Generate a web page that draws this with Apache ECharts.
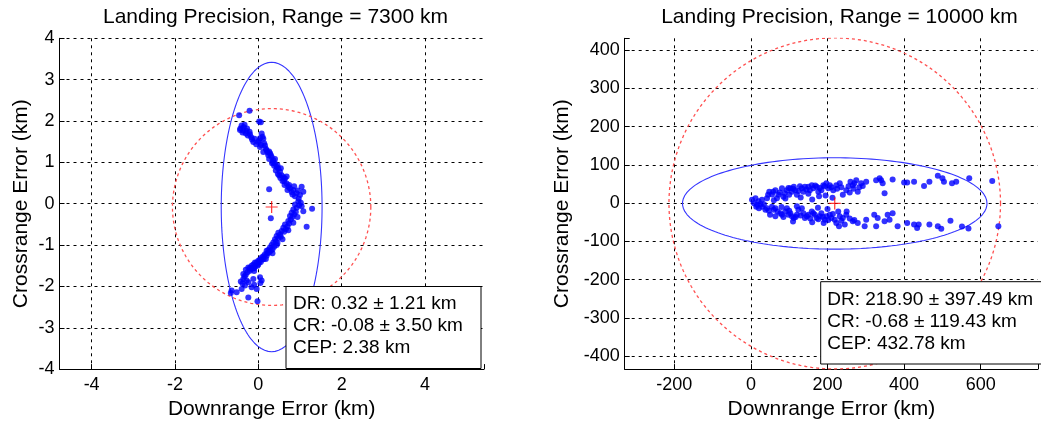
<!DOCTYPE html>
<html>
<head>
<meta charset="utf-8">
<script src="https://cdn.jsdelivr.net/npm/echarts@6/dist/echarts.min.js"></script>
<style>
html,body{margin:0;padding:0;background:#fff;}
#chart{width:1041px;height:425px;}
</style>
</head>
<body>
<div id="chart"></div>
<script>
// ---------- data ----------
const titleLeft = 'Landing Precision, Range = 7300 km';
const titleRight = 'Landing Precision, Range = 10000 km';
const xAxisName = 'Downrange Error (km)';
const yAxisName = 'Crossrange Error (km)';

// statistics (mean DR, mean CR, std DR, std CR, CEP)
const statsLeft = {dr: 0.32, cr: -0.08, sdr: 1.21, scr: 3.50, cep: 2.38};
const statsRight = {dr: 218.90, cr: -0.68, sdr: 397.49, scr: 119.43, cep: 432.78};

const boxLinesLeft = ['DR: 0.32 \u00b1 1.21 km', 'CR: -0.08 \u00b1 3.50 km', 'CEP: 2.38 km'];
const boxLinesRight = ['DR: 218.90 \u00b1 397.49 km', 'CR: -0.68 \u00b1 119.43 km', 'CEP: 432.78 km'];

// impact points, 7300 km
const pointsLeft = [
[-0.46,2.14],[-0.21,2.25],[0.02,1.99],[0.06,1.97],
[-0.40,1.89],[-0.33,1.91],[-0.43,1.82],[-0.36,1.77],[-0.27,1.82],[-0.30,1.70],[-0.21,1.74],[-0.38,1.72],
[-0.25,1.65],[-0.17,1.61],[-0.09,1.57],[-0.12,1.49],[0.00,1.49],[0.08,1.70],[0.12,1.57],[0.10,1.62],
[-0.05,1.44],[0.04,1.37],[0.07,1.42],[0.16,1.41],[0.20,1.29],[0.12,1.25],[0.18,1.33],[0.24,1.17],
[0.28,1.22],[0.32,1.13],[0.26,1.08],[0.36,1.05],[0.33,0.98],[0.40,0.97],[0.44,0.89],[0.38,0.92],
[0.48,0.85],[0.42,0.80],[0.52,0.77],[0.47,0.72],[0.56,0.69],[0.53,0.62],[0.60,0.64],[0.64,0.61],
[0.58,0.55],[0.68,0.49],[0.63,0.45],[0.72,0.41],[0.76,0.37],[0.70,0.33],[0.84,0.33],[0.80,0.28],
[0.92,0.25],[0.88,0.18],[1.00,0.21],[1.04,0.41],[1.08,0.29],[0.97,0.12],[0.26,0.35],[0.30,-0.35],
[0.96,0.06],[0.88,-0.02],[1.04,-0.06],[1.29,-0.12],[0.84,-0.14],[0.92,-0.10],[0.80,-0.22],[0.86,-0.26],
[0.76,-0.30],[1.08,-0.18],[0.72,-0.42],[0.78,-0.38],[0.64,-0.50],[0.70,-0.55],[0.60,-0.58],[0.66,-0.62],
[1.16,-0.56],[0.56,-0.66],[0.48,-0.70],[0.52,-0.75],[0.44,-0.78],[0.48,-0.83],[0.40,-0.86],[0.36,-0.94],
[0.42,-0.92],[0.32,-1.00],[0.28,-1.06],[0.34,-1.10],[0.24,-1.12],[0.20,-1.14],[0.26,-1.18],[0.16,-1.22],
[0.20,-1.26],[0.12,-1.27],[0.08,-1.30],[0.13,-1.34],[0.04,-1.35],[0.00,-1.38],[0.06,-1.41],[-0.04,-1.42],
[-0.08,-1.42],[0.00,-1.47],[-0.12,-1.47],[-0.16,-1.50],[-0.08,-1.52],[-0.20,-1.55],[-0.24,-1.54],[-0.13,-1.57],
[-0.30,-1.60],[-0.20,-1.62],[-0.26,-1.66],[-0.10,-1.63],[-0.36,-1.82],[-0.28,-1.86],[-0.33,-1.76],[-0.12,-1.82],
[0.04,-1.78],[0.08,-1.86],[0.05,-1.92],[-0.32,-1.98],[-0.38,-1.93],[-0.16,-2.02],[-0.04,-2.06],[-0.64,-2.10],
[-0.66,-2.16],[-0.52,-2.14],[-0.40,-2.06],[-0.24,-2.27],[-0.02,-2.36],
[-0.35,1.85],[-0.28,1.76],[-0.15,1.55],[0.02,1.52],[0.14,1.46],[0.22,1.24],[0.30,1.18],[0.35,1.00],
[0.46,0.93],[0.50,0.68],[0.62,0.55],[0.74,0.45],[0.82,0.22],[0.95,0.32],[1.02,0.02],[0.90,-0.20],
[0.82,-0.32],[0.74,-0.48],[0.62,-0.68],[0.54,-0.80],[0.46,-0.95],[0.38,-1.04],[0.30,-1.14],[0.22,-1.20],
[0.10,-1.35],[-0.02,-1.50],[-0.18,-1.58],[-0.30,-1.72],[-0.24,-1.90],[-0.10,-1.96],
[-0.44,1.78],[-0.20,1.68],[0.04,1.58],[0.26,1.26],[0.40,1.08],[0.54,0.86],[0.68,0.66],[0.86,0.42],
[0.98,-0.04],[0.94,-0.32],[0.84,-0.46],[0.72,-0.64],[0.58,-0.86],[0.44,-1.00],[0.34,-1.20],[0.18,-1.34],
[0.02,-1.42],[-0.10,-1.56],[-0.36,-1.70],[-0.42,-1.88]
];

// impact points, 10000 km
const pointsRight = [
[3,9],[12,13],[8,0],[16,-4],[29,9],[34,-3],[42,13],[48,30],[55,23],[64,34],[68,13],[72,22],[81,39],[85,17],
[94,34],[103,39],[107,30],[112,43],[116,34],[120,22],[124,32],[133,39],[137,30],[141,43],[150,43],[154,34],
[159,47],[163,39],[172,43],[176,30],[184,34],[189,47],[197,52],[202,39],[206,47],[215,34],[223,47],[232,52],
[240,22],[249,34],[260,56],[266,47],[275,60],[279,30],[288,52],[301,56],[327,60],[340,60],[349,26],[344,52],
[336,65],[370,62],[400,54],[408,54],[426,56],[452,45],[466,56],[488,72],[500,65],[504,56],[525,52],[536,56],
[570,65],[630,58],
[20,5],[25,-2],[45,22],[58,30],[75,28],[88,26],[98,40],[110,38],[128,44],[145,36],[168,46],[180,40],
[192,44],[210,42],[225,38],[236,42],[255,44],[270,52],[283,42],[292,45],
[60,8],[90,12],[130,15],[160,10],[195,20],[213,14],[150,25],[100,22],[178,18],[258,28],[268,38],
[14,-9],[21,-13],[29,-9],[38,-17],[42,-13],[55,-9],[60,-17],[64,-13],[64,-34],[77,-26],[81,-30],[90,-22],
[94,-13],[98,-30],[103,-26],[107,-34],[112,-39],[120,-30],[124,-17],[133,-13],[137,-26],[141,-39],[150,-30],
[159,-22],[167,-30],[172,-39],[180,-34],[184,-26],[193,-43],[197,-34],[206,-30],[210,-39],[219,-43],[223,-52],
[228,-22],[232,-34],[240,-39],[249,-30],[266,-47],[279,-52],[297,-60],[301,-43],[322,-30],[331,-39],[327,-60],
[349,-47],[357,-30],[362,-43],[370,-26],[383,-60],[408,-52],[426,-56],[434,-65],[438,-56],[466,-56],[488,-60],
[497,-67],[521,-46],[551,-61],[568,-66],[646,-60],
[47,-20],[70,-22],[85,-36],[100,-20],[117,-36],[130,-32],[146,-34],[155,-40],[163,-26],[176,-42],[188,-36],
[202,-44],[214,-28],[236,-46],[245,-56],[258,-40],[270,-44],
[80,-10],[120,-8],[175,-12],[200,-15],[250,-22],[160,-50],[110,-48],[190,-52],[230,-60],[50,-30]
];

// axis ranges / tick spacing
const xRangeLeft = [-4.771, 5.416], xStepLeft = 2;
const yRangeLeft = [-4, 4], yStepLeft = 1;
const xRangeRight = [-329.4, 749.5], xStepRight = 200;
const yRangeRight = [-433.7, 431.1], yStepRight = 100;

// ---------- helpers ----------
function ellipse(cx, cy, a, b) {
  const pts = [];
  for (let i = 0; i <= 180; i++) {
    const t = i * Math.PI / 90;
    pts.push([cx + a * Math.cos(t), cy + b * Math.sin(t)]);
  }
  return pts;
}
const FONT = '"Liberation Sans", Arial, Helvetica, sans-serif';
function fmt(step) {
  return function (v) {
    const r = v / step;
    return Math.abs(r - Math.round(r)) < 1e-6 ? String(Math.round(v)) : '';
  };
}
function xAxisCfg(idx, range, step) {
  return {
    type: 'value', gridIndex: idx, min: range[0], max: range[1],
    minInterval: step, maxInterval: step, splitNumber: 5,
    name: xAxisName, nameLocation: 'middle', nameGap: 27,
    nameTextStyle: {fontFamily: FONT, fontSize: 21, color: '#000'},
    axisLine: {show: true, onZero: false, lineStyle: {color: '#000', width: 1}},
    axisTick: {show: true, inside: true, length: 5, lineStyle: {color: '#000'}},
    axisLabel: {fontFamily: FONT, fontSize: 18, color: '#000', margin: 7, formatter: fmt(step)},
    splitLine: {show: true, showMinLine: false, showMaxLine: false, lineStyle: {color: '#000', type: [3, 4], width: 1}}
  };
}
function yAxisCfg(idx, range, step, nameGap, showMax) {
  return {
    type: 'value', gridIndex: idx, min: range[0], max: range[1],
    minInterval: step, maxInterval: step, splitNumber: 9,
    name: yAxisName, nameLocation: 'middle', nameGap: nameGap,
    nameTextStyle: {fontFamily: FONT, fontSize: 21, color: '#000'},
    axisLine: {show: true, onZero: false, lineStyle: {color: '#000', width: 1}},
    axisTick: {show: true, inside: true, length: 5, lineStyle: {color: '#000'}},
    axisLabel: {fontFamily: FONT, fontSize: 18, color: '#000', margin: 5, formatter: fmt(step)},
    splitLine: {show: true, showMinLine: false, showMaxLine: showMax, lineStyle: {color: '#000', type: [3, 4], width: 1}}
  };
}
const crossPath = 'path://M4.5,0 H5.5 V4.5 H10 V5.5 H5.5 V10 H4.5 V5.5 H0 V4.5 H4.5 Z';

function seriesFor(idx, pts, s) {
  return [
    {type: 'scatter', xAxisIndex: idx, yAxisIndex: idx, data: pts, symbol: 'circle', symbolSize: 6,
     itemStyle: {color: '#0000ff'}, silent: true, z: 3},
    {type: 'line', xAxisIndex: idx, yAxisIndex: idx, data: ellipse(s.dr, s.cr, s.sdr, s.scr),
     showSymbol: false, lineStyle: {color: '#3535ff', width: 1.1}, silent: true, z: 2},
    {type: 'line', xAxisIndex: idx, yAxisIndex: idx, data: ellipse(s.dr, s.cr, s.cep, s.cep),
     showSymbol: false, lineStyle: {color: '#ff5050', width: 1.3, type: [3, 3]}, silent: true, z: 2},
    {type: 'scatter', xAxisIndex: idx, yAxisIndex: idx, data: [[s.dr, s.cr]], symbol: crossPath, symbolSize: 12,
     itemStyle: {color: '#ff0000'}, silent: true, z: 4}
  ];
}

function textBox(x, y, w, h, lines, tx, ty0, dy) {
  const children = [{type: 'rect', shape: {x: x, y: y, width: w, height: h},
    style: {fill: '#fff', stroke: '#000', lineWidth: 1}, z: 10}];
  lines.forEach(function (t, i) {
    children.push({type: 'text', x: tx, y: ty0 + i * dy, z: 11,
      style: {text: t, fill: '#000', font: '19px ' + FONT, verticalAlign: 'middle', align: 'left'}});
  });
  return children;
}

const chart = echarts.init(document.getElementById('chart'), null, {renderer: 'canvas'});
const option = {
  backgroundColor: '#fff',
  animation: false,
  title: [
    {text: titleLeft, left: 270.5, top: 2, textAlign: 'center',
     textStyle: {fontFamily: FONT, fontSize: 21, fontWeight: 'normal', color: '#000'}},
    {text: titleRight, left: 834.5, top: 2, textAlign: 'center',
     textStyle: {fontFamily: FONT, fontSize: 21, fontWeight: 'normal', color: '#000'}}
  ],
  grid: [
    {left: 59.5, top: 38.3, width: 424.5, height: 334.4},
    {left: 624.7, top: 38.3, width: 417, height: 334.4}
  ],
  xAxis: [xAxisCfg(0, xRangeLeft, xStepLeft), xAxisCfg(1, xRangeRight, xStepRight)],
  yAxis: [yAxisCfg(0, yRangeLeft, yStepLeft, 28, true), yAxisCfg(1, yRangeRight, yStepRight, 52, false)],
  series: [].concat(seriesFor(0, pointsLeft, statsLeft), seriesFor(1, pointsRight, statsRight)),
  graphic: [].concat(
    textBox(286, 286.5, 195, 82, boxLinesLeft, 293, 304, 22),
    textBox(820.7, 281.7, 240, 82.3, boxLinesRight, 827.3, 299.5, 22)
  )
};
chart.setOption(option);
</script>
</body>
</html>
